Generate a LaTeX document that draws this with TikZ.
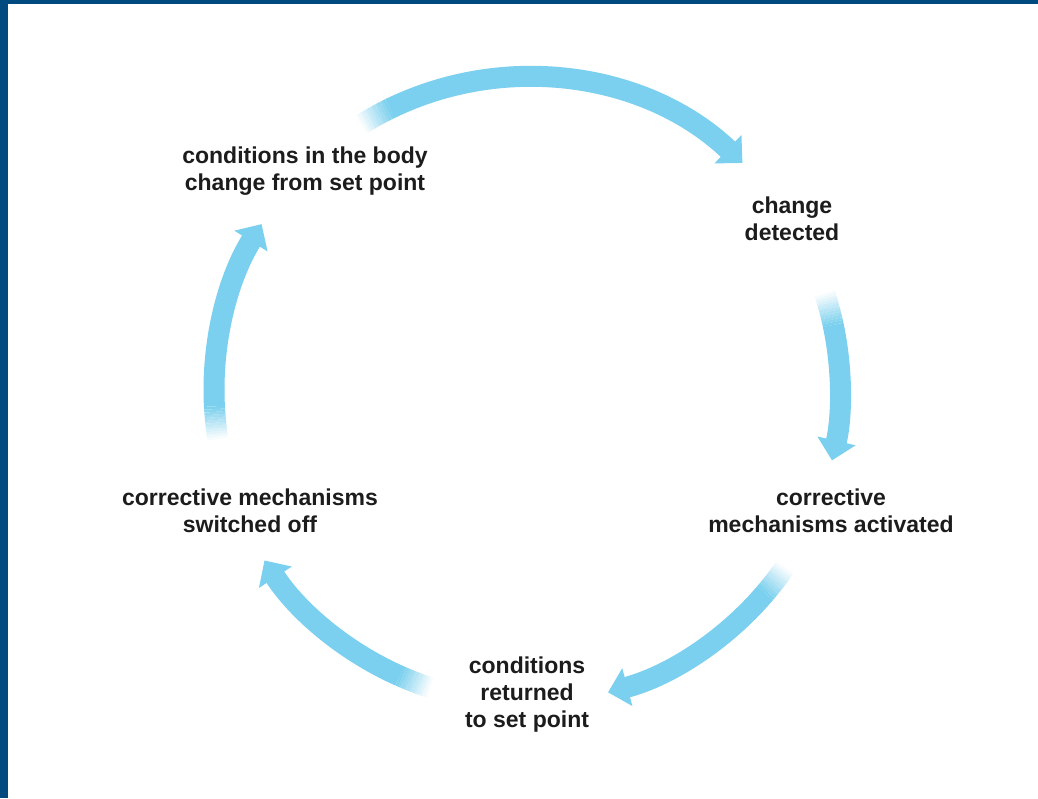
\documentclass[tikz,border=0pt]{standalone}
\usepackage{fontspec}
\setmainfont{Liberation Sans}
\usetikzlibrary{arrows.meta}
\definecolor{azulborde}{RGB}{0, 74, 128}
\definecolor{celeste}{RGB}{122, 208, 238}
\definecolor{textogris}{RGB}{28, 28, 28}

\begin{document}
\begin{tikzpicture}[x=1pt, y=1pt,
      lbl/.style={align=center, inner sep=0pt, text=textogris,
                  font=\fontsize{23}{27}\selectfont\bfseries},
      cola/.style={line width=21pt, draw=celeste},
      flecha/.style={line width=21pt, draw=celeste,
                     -{Triangle[length=20pt, width=38pt]}}]
    \useasboundingbox (0,0) rectangle (1038,798);
    \fill[white] (0,0) rectangle (1038,798);
    \fill[azulborde] (0,0) rectangle (8,798);
    \fill[azulborde] (0,794) rectangle (1038,798);
    \coordinate (c) at (527,408);
    % etapas del ciclo
    \node[lbl] (cuerpo) at (305,627) {conditions in the body\\ change from set point};
    \node[lbl] (detect) at (792,579) {change\\ detected};
    \node[lbl] (activ) at (831,287) {corrective\\ mechanisms activated};
    \node[lbl] (retorno) at (527,103) {conditions\\ returned\\ to set point};
    \node[lbl] (apag) at (250,287) {corrective mechanisms\\ switched off};
    % flechas en arco, cola desvanecida
    \foreach \a/\b/\nom in {122/46.5/fa, 18/-13/fb, -34.5/-75/fc, -108/-147/fd, 189/148/fe} {
      \coordinate (\nom) at ([shift={(\a:313)}]c);
      \foreach \i in {0,...,11} {
        \pgfmathsetmacro\p{\a-\i*0.5}
        \pgfmathsetmacro\q{\a-(\i+1)*0.5}
        \pgfmathsetmacro\o{(\i+0.5)/12}
        \draw[cola, draw opacity=\o] ([shift={(\p:313)}]c) arc[start angle=\p, end angle=\q, radius=313];
      }
      \pgfmathsetmacro\p{\a-6}
      \draw[flecha] ([shift={(\p:313)}]c) arc[start angle=\p, end angle=\b, radius=313];
    }
  \end{tikzpicture}
\end{document}
